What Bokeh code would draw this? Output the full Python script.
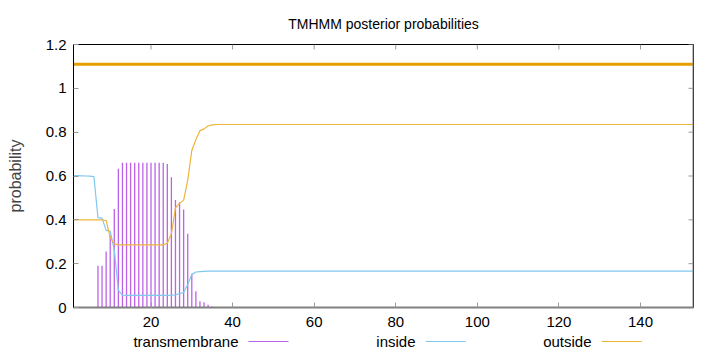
from bokeh.plotting import figure
from bokeh.models import Range1d, FixedTicker, CustomJSTickFormatter, Span
from bokeh.layouts import column
from bokeh.embed import file_html
from bokeh.resources import INLINE
from bokeh.core.properties import value

# ---- data ----
positions = [1, 2, 3, 4, 5, 6, 7, 8, 9, 10, 11, 12, 13, 14, 15, 16, 17, 18,
             19, 20, 21, 22, 23, 24, 25, 26, 27, 28, 29, 30, 31, 32, 33, 34,
             35, 36, 153]
inside = [0.602, 0.602, 0.601, 0.600, 0.599, 0.597, 0.410, 0.408, 0.352,
          0.348, 0.262, 0.078, 0.056, 0.055, 0.055, 0.055, 0.055, 0.055,
          0.055, 0.055, 0.055, 0.055, 0.055, 0.055, 0.056, 0.058, 0.063,
          0.068, 0.105, 0.150, 0.162, 0.164, 0.165, 0.166, 0.166, 0.166,
          0.166]
outside = [0.400, 0.400, 0.400, 0.400, 0.400, 0.400, 0.400, 0.400, 0.397,
           0.320, 0.290, 0.286, 0.286, 0.286, 0.286, 0.286, 0.286, 0.286,
           0.286, 0.286, 0.286, 0.286, 0.286, 0.293, 0.336, 0.455, 0.475,
           0.490, 0.580, 0.716, 0.766, 0.807, 0.815, 0.828, 0.833, 0.835,
           0.835]
tm_positions = [7, 8, 9, 10, 11, 12, 13, 14, 15, 16, 17, 18, 19, 20, 21, 22,
                23, 24, 25, 26, 27, 28, 29, 30, 31, 32, 33, 34, 35]
transmembrane = [0.190, 0.190, 0.255, 0.330, 0.450, 0.633, 0.660, 0.660,
                 0.660, 0.660, 0.660, 0.660, 0.660, 0.660, 0.660, 0.660,
                 0.660, 0.655, 0.594, 0.490, 0.480, 0.447, 0.336, 0.154,
                 0.074, 0.029, 0.024, 0.012, 0.005]
# predicted topology: whole sequence outside
topology_start = [1]
topology_end = [153]
topology_level = [1.11]

x_ticks = [20, 40, 60, 80, 100, 120, 140]
y_ticks = [0, 0.2, 0.4, 0.6, 0.8, 1.0, 1.2]
legend_names = ["transmembrane", "inside", "outside"]

X0, X1, Y0, Y1 = 1, 153, 0, 1.2
FRAME_W, FRAME_H = 620, 263

FONT = "Liberation Sans"
FS = "15px"
C_TM = "#bd62e8"
C_IN = "#80c8ee"
C_OUT = "#edb43a"
C_TOPO = "#e69f00"
TICK = "#9a9a9a"

p = figure(frame_width=FRAME_W, frame_height=FRAME_H,
           x_range=Range1d(X0, X1), y_range=Range1d(Y0, Y1),
           output_backend="svg", toolbar_location=None,
           min_border_left=73, min_border_right=27,
           min_border_top=44, min_border_bottom=25,
           background_fill_color="white", border_fill_color="white")
p.outline_line_color = "black"
p.outline_line_width = 1
p.xgrid.visible = False
p.ygrid.visible = False

p.title.text = "TMHMM posterior probabilities"
p.title.align = "center"
p.title.text_font = FONT
p.title.text_font_size = "14px"
p.title.text_font_style = "normal"
p.title.text_color = "black"
p.title.standoff = 25

# glyphs
p.segment(x0=tm_positions, x1=tm_positions, y0=[0] * len(tm_positions),
          y1=transmembrane, line_color=C_TM, line_width=1.3)
p.line(positions, inside, line_color=C_IN, line_width=1.2)
p.line(positions, outside, line_color=C_OUT, line_width=1.2)
p.segment(x0=topology_start, x1=topology_end, y0=topology_level,
          y1=topology_level, line_color=C_TOPO, line_width=3)

# mirrored inward ticks on the top and right edges (5 px long)
dx = 5 * (X1 - X0) / FRAME_W
dy = 5 * (Y1 - Y0) / FRAME_H
p.segment(x0=x_ticks, x1=x_ticks, y0=[Y1] * len(x_ticks),
          y1=[Y1 - dy] * len(x_ticks), line_color=TICK, line_width=1)
p.segment(x0=[X1] * len(y_ticks), x1=[X1 - dx] * len(y_ticks), y0=y_ticks,
          y1=y_ticks, line_color=TICK, line_width=1)
p.add_layout(Span(location=X1, dimension="height", line_color="#808080",
                  line_width=2))

fmt = CustomJSTickFormatter(code="return String(Math.round(tick*10)/10);")

xa = p.xaxis[0]
xa.ticker = FixedTicker(ticks=x_ticks)
ya = p.yaxis[0]
ya.ticker = FixedTicker(ticks=y_ticks)
ya.formatter = fmt
ya.axis_label = "probability"
ya.axis_label_standoff = 19
ya.axis_label_text_font = FONT
ya.axis_label_text_font_size = "16px"
ya.axis_label_text_font_style = "normal"
for ax in (xa, ya):
    ax.major_tick_in = 5
    ax.major_tick_out = 0
    ax.minor_tick_line_color = None
    ax.major_tick_line_color = TICK
    ax.major_label_text_font = FONT
    ax.major_label_text_font_size = FS
    ax.major_label_text_color = "black"
xa.major_label_standoff = 9
ya.major_label_standoff = 7
ya.axis_line_color = "black"
ya.axis_line_width = 1
xa.axis_line_color = "#808080"
xa.axis_line_width = 2

# legend strip (label then line sample, as in the reference); x in pixels
lg = figure(frame_width=FRAME_W, frame_height=20,
            x_range=Range1d(73, 73 + FRAME_W), y_range=Range1d(0, 20),
            output_backend="svg", toolbar_location=None,
            min_border_left=73, min_border_right=27,
            min_border_top=0, min_border_bottom=0,
            border_fill_color="white")
lg.axis.visible = False
lg.xgrid.visible = False
lg.ygrid.visible = False
lg.outline_line_color = None
label_right = [238, 415, 591]
lg.text(x=label_right, y=[11, 11, 11], text=legend_names, text_align="right",
        text_baseline="middle", text_font=value(FONT), text_font_size=FS,
        text_color="black")
lg.segment(x0=[r + 10 for r in label_right], x1=[r + 50 for r in label_right],
           y0=[11, 11, 11], y1=[11, 11, 11],
           line_color=[C_TM, C_IN, C_OUT], line_width=1.2)

layout = column(p, lg, spacing=0)
open("out.html", "w").write(file_html(layout, INLINE))
